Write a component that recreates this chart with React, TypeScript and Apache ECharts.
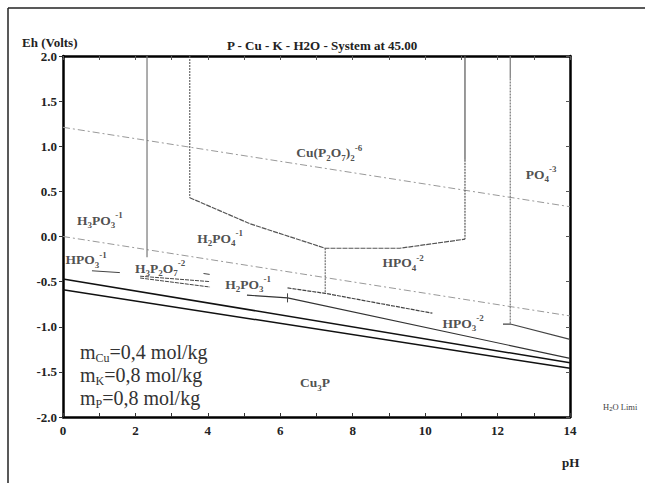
import React, { useEffect, useRef } from "react";
import * as echarts from "echarts";

// ---- data (pH, Eh in volts) ----
const waterUpper = [[0, 1.21], [14, 0.33]];
const waterLower = [[0, 0.0], [14, -0.88]];
const cu3pUpper = [[0, -0.47], [14, -1.4]];
const cu3pLower = [[0, -0.59], [14, -1.46]];
const h2po3Lower = [[5.08, -0.65], [6.2, -0.68], [14, -1.35]];
const hpo3Upper = [[6.2, -0.57], [7.24, -0.63], [10.2, -0.85]];
const hpo3Tick = [[6.2, -0.63], [6.2, -0.73]];
const h3p2o7LineA = [[2.13, -0.44], [4.06, -0.5]];
const h3p2o7LineB = [[2.13, -0.46], [4.06, -0.56]];
const h3p2o7Dash = [[3.88, -0.41], [4.05, -0.42]];
const hpo3m1Line = [[0.8, -0.38], [1.57, -0.4]];
const h3po3Boundary = [[2.32, 2.0], [2.32, -0.23]];
const cuP2O7Left = [[3.5, 2.0], [3.5, 0.43]];
const cuP2O7Bottom = [[3.5, 0.43], [5.17, 0.14], [7.24, -0.13], [9.3, -0.13], [11.1, -0.03]];
const cuP2O7RightSolid = [[11.1, 2.0], [11.1, 0.85]];
const cuP2O7RightDotted = [[11.1, 0.85], [11.1, -0.03]];
const hpo4Divider = [[7.24, -0.13], [7.24, -0.63]];
const po4LeftSolid = [[12.35, 2.0], [12.35, 1.75]];
const po4LeftDotted = [[12.35, 1.75], [12.35, -0.97]];
const po4Bottom = [[12.15, -0.97], [12.35, -0.97], [14, -1.14]];

const speciesText = [
  "Cu(P{s|2}O{s|7}){s|2}{p|-6}",
  "PO{s|4}{p|-3}",
  "H{s|3}PO{s|3}{p|-1}",
  "H{s|2}PO{s|4}{p|-1}",
  "HPO{s|4}{p|-2}",
  "HPO{s|3}{p|-1}",
  "H{s|3}P{s|2}O{s|7}{p|-2}",
  "H{s|2}PO{s|3}{p|-1}",
  "HPO{s|3}{p|-2}",
  "Cu{s|3}P",
];
const speciesPH = [7.35, 13.2, 1.02, 4.34, 9.39, 0.64, 2.68, 5.11, 11.05, 6.96];
const speciesEh = [0.93, 0.69, 0.18, -0.02, -0.29, -0.26, -0.35, -0.53, -0.96, -1.62];

const molalityText = [
  "m{s|Cu}=0,4 mol/kg",
  "m{s|K}=0,8 mol/kg",
  "m{s|P}=0,8 mol/kg",
];

const titleText = "P - Cu - K - H2O - System at 45.00";
const yAxisTitle = "Eh (Volts)";
const xAxisTitle = "pH";

const SERIF = "Liberation Serif";

function lineSeries(data: number[][], color: string, width: number, type: any) {
  return {
    type: "line",
    data,
    showSymbol: false,
    symbol: "none",
    silent: true,
    lineStyle: { color, width, type },
    z: 3,
  };
}

export default function App() {
  const ref = useRef<HTMLDivElement>(null);
  useEffect(() => {
    if (!ref.current) return;
    const chart = echarts.init(ref.current, null, { renderer: "svg" });
    const axisLineStyle = { color: "#000", width: 2.5 };
    const boldRich = { b: { fontFamily: SERIF, fontWeight: "bold", fontSize: 13, color: "#222" } };
    const tickLabel = { fontFamily: SERIF, fontWeight: "bold", fontSize: 13, color: "#222", rich: boldRich };
    const option: any = {
      animation: false,
      backgroundColor: "#fff",
      title: {
        text: `{t|${titleText}}`,
        left: 222,
        top: 34,
        textStyle: {
          fontFamily: SERIF,
          fontWeight: "bold",
          fontSize: 13,
          color: "#222",
          rich: { t: { fontFamily: SERIF, fontWeight: "bold", fontSize: 13, color: "#222" } },
        },
      },
      grid: { left: 63, right: 75, top: 56, bottom: 72 },
      xAxis: [
        {
          type: "value",
          min: 0,
          max: 14,
          interval: 1,
          position: "bottom",
          axisLine: { onZero: false, lineStyle: axisLineStyle },
          axisTick: { inside: true, length: 4, lineStyle: { color: "#333", width: 1 } },
          axisLabel: {
            ...tickLabel,
            formatter: (v: number) => (v % 2 === 0 ? `{b|${v}}` : ""),
            margin: 7,
          },
          splitLine: { show: false },
        },
        {
          type: "value",
          min: 0,
          max: 14,
          interval: 1,
          position: "top",
          axisLine: { onZero: false, lineStyle: axisLineStyle },
          axisTick: { inside: true, length: 4, lineStyle: { color: "#555", width: 1 } },
          axisLabel: { show: false },
          splitLine: { show: false },
        },
      ],
      yAxis: [
        {
          type: "value",
          min: -2,
          max: 2,
          interval: 0.5,
          position: "left",
          axisLine: { onZero: false, lineStyle: axisLineStyle },
          axisTick: { inside: false, length: 4, lineStyle: { color: "#333", width: 1 } },
          axisLabel: {
            ...tickLabel,
            formatter: (v: number) => `{b|${v.toFixed(1)}}`,
            margin: 6,
          },
          splitLine: { show: false },
        },
        {
          type: "value",
          min: -2,
          max: 2,
          interval: 0.5,
          position: "right",
          axisLine: { onZero: false, lineStyle: axisLineStyle },
          axisTick: { inside: true, length: 4, lineStyle: { color: "#555", width: 1 } },
          axisLabel: { show: false },
          splitLine: { show: false },
        },
      ],
      series: [
        lineSeries(waterUpper, "#999", 1, [7, 3, 2, 3]),
        lineSeries(waterLower, "#999", 1, [7, 3, 2, 3]),
        lineSeries(cu3pUpper, "#111", 1.5, "solid"),
        lineSeries(cu3pLower, "#111", 1.5, "solid"),
        lineSeries(h2po3Lower, "#333", 1.2, "solid"),
        lineSeries(hpo3Upper, "#444", 1.2, [4, 1]),
        lineSeries(hpo3Tick, "#444", 1, "solid"),
        lineSeries(h3p2o7LineA, "#444", 1, [4, 1]),
        lineSeries(h3p2o7LineB, "#444", 1, [4, 1]),
        lineSeries(h3p2o7Dash, "#444", 1, "solid"),
        lineSeries(hpo3m1Line, "#444", 1, "solid"),
        lineSeries(h3po3Boundary, "#777", 1.2, "solid"),
        lineSeries(cuP2O7Left, "#666", 1.2, [2, 1]),
        lineSeries(cuP2O7Bottom, "#555", 1.2, [5, 1]),
        lineSeries(cuP2O7RightSolid, "#555", 1.2, "solid"),
        lineSeries(cuP2O7RightDotted, "#555", 1.2, [2, 1]),
        lineSeries(hpo4Divider, "#555", 1, [2, 1]),
        lineSeries(po4LeftSolid, "#777", 1.2, "solid"),
        lineSeries(po4LeftDotted, "#777", 1.2, [2, 1]),
        lineSeries(po4Bottom, "#444", 1.2, "solid"),
        {
          type: "scatter",
          data: speciesPH.map((p, i) => [p, speciesEh[i]]),
          symbolSize: 0,
          silent: true,
          z: 5,
          label: {
            show: true,
            position: "inside",
            formatter: (p: any) => speciesText[p.dataIndex],
            fontFamily: SERIF,
            fontWeight: "bold",
            fontSize: 13.5,
            lineHeight: 19,
            color: "#222",
            rich: {
              s: { fontFamily: SERIF, fontWeight: "bold", fontSize: 9, lineHeight: 9, verticalAlign: "bottom", color: "#222" },
              p: { fontFamily: SERIF, fontWeight: "bold", fontSize: 9, lineHeight: 9, verticalAlign: "top", color: "#222" },
            },
          },
        },
      ],
      graphic: [
        { type: "line", shape: { x1: 8, y1: 8, x2: 645, y2: 8 }, style: { stroke: "#222", lineWidth: 1.5 } },
        { type: "line", shape: { x1: 8, y1: 8, x2: 8, y2: 483 }, style: { stroke: "#222", lineWidth: 1.5 } },
        {
          type: "text",
          x: 22,
          y: 42,
          style: {
            text: `{b|${yAxisTitle}}`,
            font: `bold 13px ${SERIF}`,
            fill: "#222",
            verticalAlign: "middle",
            rich: { b: { fontFamily: SERIF, fontWeight: "bold", fontSize: 13, fill: "#222" } },
          },
        },
        {
          type: "text",
          x: 562,
          y: 462,
          style: {
            text: `{b|${xAxisTitle}}`,
            font: `bold 13px ${SERIF}`,
            fill: "#222",
            verticalAlign: "middle",
            rich: { b: { fontFamily: SERIF, fontWeight: "bold", fontSize: 13, fill: "#222" } },
          },
        },
        {
          type: "text",
          x: 603,
          y: 407,
          style: {
            text: "H{s|2}O Limi",
            font: `8.5px ${SERIF}`,
            fill: "#444",
            verticalAlign: "middle",
            rich: { s: { fontSize: 6, verticalAlign: "bottom", fill: "#444" } },
          },
        },
        ...molalityText.map((t, i) => ({
          type: "text",
          x: 80,
          y: 352 + i * 23,
          style: {
            text: t,
            font: `20px ${SERIF}`,
            fill: "#333",
            verticalAlign: "middle",
            lineHeight: 24,
            rich: {
              s: { fontFamily: SERIF, fontSize: 12, lineHeight: 14, verticalAlign: "bottom", fill: "#333" },
            },
          },
        })),
      ],
    };
    chart.setOption(option);
    return () => chart.dispose();
  }, []);
  return (
    <div
      ref={ref}
      style={{ position: "fixed", left: 0, top: 0, width: 645, height: 489, background: "#fff" }}
    />
  );
}
